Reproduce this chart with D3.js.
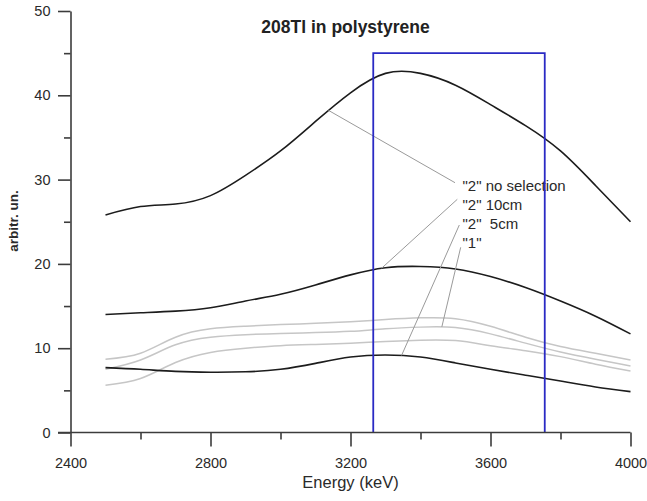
<!DOCTYPE html>
<html>
<head>
<meta charset="utf-8">
<script src="https://cdn.jsdelivr.net/npm/d3@7"></script>
<style>
  html, body { margin: 0; padding: 0; background: #fff; }
  svg { display: block; font-family: "Liberation Sans", Arial, sans-serif; }
</style>
</head>
<body>
<svg id="chart" width="647" height="501"></svg>
<script>
// Energy grid (keV) shared by every spectrum
const energies = [2500, 2600, 2700, 2800, 2900, 3000, 3100, 3200, 3300, 3400, 3500, 3600, 3700, 3800, 3900, 4000];

// Spectra, arbitrary units
const noSelection = [25.8, 26.8, 27.1, 28.1, 30.5, 33.4, 36.9, 40.3, 42.6, 42.6, 41.2, 38.9, 36.4, 33.4, 29.3, 25.0];
const cut10cm     = [14.0, 14.2, 14.4, 14.8, 15.6, 16.4, 17.5, 18.7, 19.55, 19.7, 19.4, 18.5, 17.2, 15.6, 13.8, 11.7];
const cut5cm      = [7.7, 7.5, 7.25, 7.15, 7.2, 7.5, 8.2, 8.95, 9.2, 8.95, 8.25, 7.5, 6.8, 6.1, 5.4, 4.85];
const grayUpper   = [8.7, 9.4, 11.3, 12.3, 12.6, 12.8, 12.95, 13.15, 13.4, 13.6, 13.5, 12.6, 11.3, 10.2, 9.4, 8.6];
const single      = [7.5, 8.6, 10.4, 11.3, 11.6, 11.75, 11.85, 12.0, 12.3, 12.5, 12.45, 11.7, 10.6, 9.55, 8.7, 7.9];
const grayLower   = [5.6, 6.4, 8.3, 9.5, 10.0, 10.3, 10.45, 10.6, 10.8, 10.95, 10.9, 10.3, 9.7, 9.0, 8.1, 7.3];

// Selection window (keV) and its height
const windowRange = [3265, 3755];
const windowTop = 45;

// Axis ticks
const xMajorTicks = [2400, 2800, 3200, 3600, 4000];
const xMinorTicks = [2600, 3000, 3400, 3800];
const yMajorTicks = [0, 10, 20, 30, 40, 50];
const yMinorTicks = [5, 15, 25, 35, 45];

// Labels with the energy where each leader meets its curve
const legendLabels  = ['"2" no selection', '"2" 10cm', '"2"  5cm', '"1"'];
const legendSeries  = ["noSelection", "cut10cm", "cut5cm", "single"];
const legendAnchors = [3137, 3289, 3346, 3461];

const titleText = "208Tl in polystyrene";
const xTitle = "Energy (keV)";
const yTitle = "arbitr. un.";

const svg = d3.select("#chart");
const x = d3.scaleLinear().domain([2400, 4000]).range([70.5, 630.5]);
const y = d3.scaleLinear().domain([0, 50]).range([432.5, 11]);

const line = d3.line()
  .x((d, i) => x(energies[i]))
  .y(d => y(d))
  .curve(d3.curveNatural);

const seriesList = [
  { key: "grayUpper", values: grayUpper, color: "#c6c6c6", width: 1.5 },
  { key: "single", values: single, color: "#c6c6c6", width: 1.5 },
  { key: "grayLower", values: grayLower, color: "#c6c6c6", width: 1.5 },
  { key: "cut5cm", values: cut5cm, color: "#1c1c1c", width: 1.6 },
  { key: "cut10cm", values: cut10cm, color: "#1c1c1c", width: 1.6 },
  { key: "noSelection", values: noSelection, color: "#1c1c1c", width: 1.6 }
];

const paths = {};
const curves = svg.append("g").attr("fill", "none");
seriesList.forEach(s => {
  paths[s.key] = curves.append("path")
    .attr("d", line(s.values))
    .attr("stroke", s.color)
    .attr("stroke-width", s.width)
    .attr("stroke-linejoin", "round")
    .node();
});

// Find the y position on a drawn curve at a given screen x
function yOnPath(node, px) {
  const total = node.getTotalLength();
  let lo = 0, hi = total;
  for (let k = 0; k < 40; k++) {
    const mid = (lo + hi) / 2;
    if (node.getPointAtLength(mid).x < px) lo = mid; else hi = mid;
  }
  return node.getPointAtLength((lo + hi) / 2).y;
}

// Labels and leaders
const labelX = 462.5;
const labelBase = [190.7, 210, 229.3, 248.3];
const leaderFrom = [[-7.5, -8], [-5.2, -10.7], [-3.2, -4.3], [-1.8, -1]];
const legend = svg.append("g");
legendLabels.forEach((lbl, i) => {
  const ax = x(legendAnchors[i]);
  const ay = yOnPath(paths[legendSeries[i]], ax);
  legend.append("line")
    .attr("x1", labelX + leaderFrom[i][0]).attr("y1", labelBase[i] + leaderFrom[i][1])
    .attr("x2", ax).attr("y2", ay)
    .attr("stroke", "#9a9a9a").attr("stroke-width", 1);
  legend.append("text")
    .attr("x", labelX).attr("y", labelBase[i])
    .attr("font-size", 15).attr("fill", "#2a2a2a")
    .style("white-space", "pre")
    .text(lbl);
});

// Selection window
svg.append("path")
  .attr("d", d3.line()([
    [x(windowRange[0]), y(0)], [x(windowRange[0]), y(windowTop)],
    [x(windowRange[1]), y(windowTop)], [x(windowRange[1]), y(0)]
  ]))
  .attr("fill", "none").attr("stroke", "#2a2ac4").attr("stroke-width", 1.8);

// Axes
const axisColor = "#3c3c3c";
const gx = svg.append("g").attr("transform", `translate(0,${y(0)})`)
  .call(d3.axisBottom(x).tickValues(xMajorTicks).tickSize(14).tickSizeOuter(0).tickPadding(11).tickFormat(d3.format("d")));
const gxMinor = svg.append("g").attr("transform", `translate(0,${y(0)})`)
  .call(d3.axisBottom(x).tickValues(xMinorTicks).tickSize(7).tickFormat(""));
gxMinor.select(".domain").remove();
const gy = svg.append("g").attr("transform", `translate(${x(2400)},0)`)
  .call(d3.axisLeft(y).tickValues(yMajorTicks).tickSize(12.5).tickSizeOuter(0).tickPadding(7.5));
const gyMinor = svg.append("g").attr("transform", `translate(${x(2400)},0)`)
  .call(d3.axisLeft(y).tickValues(yMinorTicks).tickSize(6.5).tickFormat(""));
gyMinor.select(".domain").remove();

[gx, gxMinor, gy, gyMinor].forEach(g => {
  g.selectAll(".domain, line").attr("stroke", axisColor).attr("stroke-width", 1.6);
  g.selectAll("text").attr("font-family", "Liberation Sans, Arial, sans-serif")
    .attr("font-size", 14.5).attr("fill", "#2a2a2a");
});
gx.select(".domain").attr("d", `M${x(2400) - 12.5},0H${x(4000)}`);

// Titles
svg.append("text")
  .attr("x", 345.5).attr("y", 32.5)
  .attr("text-anchor", "middle")
  .attr("font-size", 17.5).attr("font-weight", "bold").attr("fill", "#222")
  .text(titleText);

svg.append("text")
  .attr("x", 350.5).attr("y", 487.5)
  .attr("text-anchor", "middle")
  .attr("font-size", 16.5).attr("fill", "#2a2a2a")
  .text(xTitle);

svg.append("text")
  .attr("transform", "translate(17.5,221) rotate(-90)")
  .attr("text-anchor", "middle")
  .attr("font-size", 13.5).attr("font-weight", "bold").attr("fill", "#2a2a2a")
  .text(yTitle);
</script>
</body>
</html>
